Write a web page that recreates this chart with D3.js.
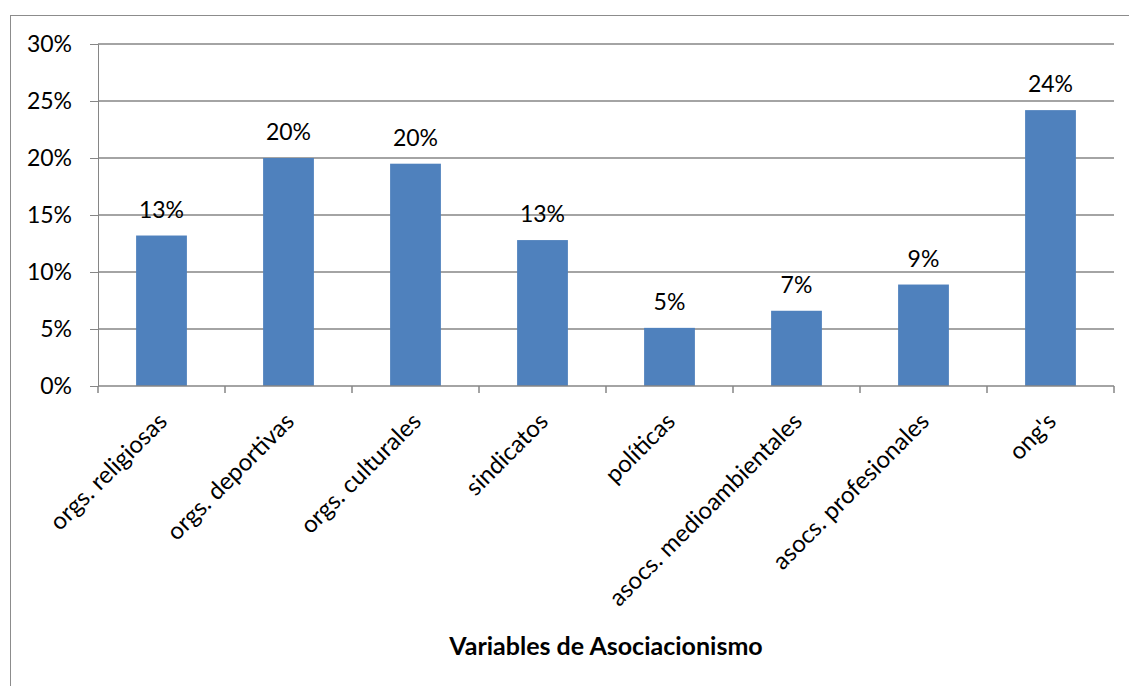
<!DOCTYPE html>
<html><head><meta charset="utf-8">
<script src="https://cdn.jsdelivr.net/npm/d3@7"></script>
<style>body{margin:0;background:#fff;}svg{display:block;font-family:Lato,"Open Sans",sans-serif;}</style>
</head><body><svg id="c" width="1129" height="686"></svg>
<script>
const categories = ["orgs. religiosas","orgs. deportivas","orgs. culturales","sindicatos","políticas","asocs. medioambientales","asocs. profesionales","ong's"];
const values = [0.132, 0.200, 0.195, 0.128, 0.051, 0.066, 0.089, 0.242];
const valueLabels = ["13%","20%","20%","13%","5%","7%","9%","24%"];
const yTicks = [0, 0.05, 0.10, 0.15, 0.20, 0.25, 0.30];
const xTitle = "Variables de Asociacionismo";

const svg = d3.select("#c");
const L = 98, R = 1114, T = 44, B = 386;
svg.append("rect").attr("x",10.5).attr("y",15.5).attr("width",1130).attr("height",700)
  .attr("fill","none").attr("stroke","#8c8c8c").attr("stroke-width",1);

const x = d3.scaleBand().domain(categories).range([L,R]).paddingInner(0.6).paddingOuter(0.3);
const xb = d3.scaleBand().domain(categories).range([L,R]);
const y = d3.scaleLinear().domain([0,0.30]).range([B,T]);

// gridlines + y ticks
const gy = svg.append("g").attr("transform",`translate(${L},0)`)
  .call(d3.axisLeft(y).tickValues(yTicks).tickFormat(d3.format(".0%")).tickSize(8).tickPadding(18));
gy.select(".domain").attr("stroke","#868686");
gy.selectAll(".tick line").attr("stroke","#868686");
gy.selectAll(".tick text").attr("font-size",23).attr("fill","#000").attr("font-family","Lato");
svg.append("g").selectAll("line").data(yTicks.filter(d=>d>0)).join("line")
  .attr("x1",L).attr("x2",R).attr("y1",d=>y(d)).attr("y2",d=>y(d))
  .attr("stroke","#868686").attr("stroke-width",1.5);

// bars
svg.append("g").selectAll("rect").data(categories).join("rect")
  .attr("x",d=>x(d)).attr("width",x.bandwidth())
  .attr("y",(d,i)=>y(values[i])).attr("height",(d,i)=>B-y(values[i]))
  .attr("fill","#4F81BD");

// x axis
svg.append("line").attr("x1",L).attr("x2",R).attr("y1",B).attr("y2",B).attr("stroke","#868686").attr("stroke-width",1.5);
const bounds = categories.map(c=>xb(c)).concat([R]);
svg.append("g").selectAll("line").data(bounds).join("line")
  .attr("x1",d=>d).attr("x2",d=>d).attr("y1",B).attr("y2",B+7).attr("stroke","#868686").attr("stroke-width",1.5);

// value labels
svg.append("g").selectAll("text").data(categories).join("text")
  .attr("x",d=>x(d)+x.bandwidth()/2).attr("y",(d,i)=>y(values[i])-18)
  .attr("text-anchor","middle").attr("font-size",23).attr("fill","#000")
  .text((d,i)=>valueLabels[i]);

// category labels
svg.append("g").selectAll("text").data(categories).join("text")
  .attr("transform",d=>`translate(${xb(d)+xb.bandwidth()/2+7},${B+37}) rotate(-45)`)
  .attr("text-anchor","end").attr("font-size",24).attr("fill","#000")
  .text(d=>d);

svg.append("text").attr("x",(L+R)/2).attr("y",655).attr("text-anchor","middle")
  .attr("font-size",25).attr("font-weight","bold").attr("fill","#000").text(xTitle);
</script></body></html>
